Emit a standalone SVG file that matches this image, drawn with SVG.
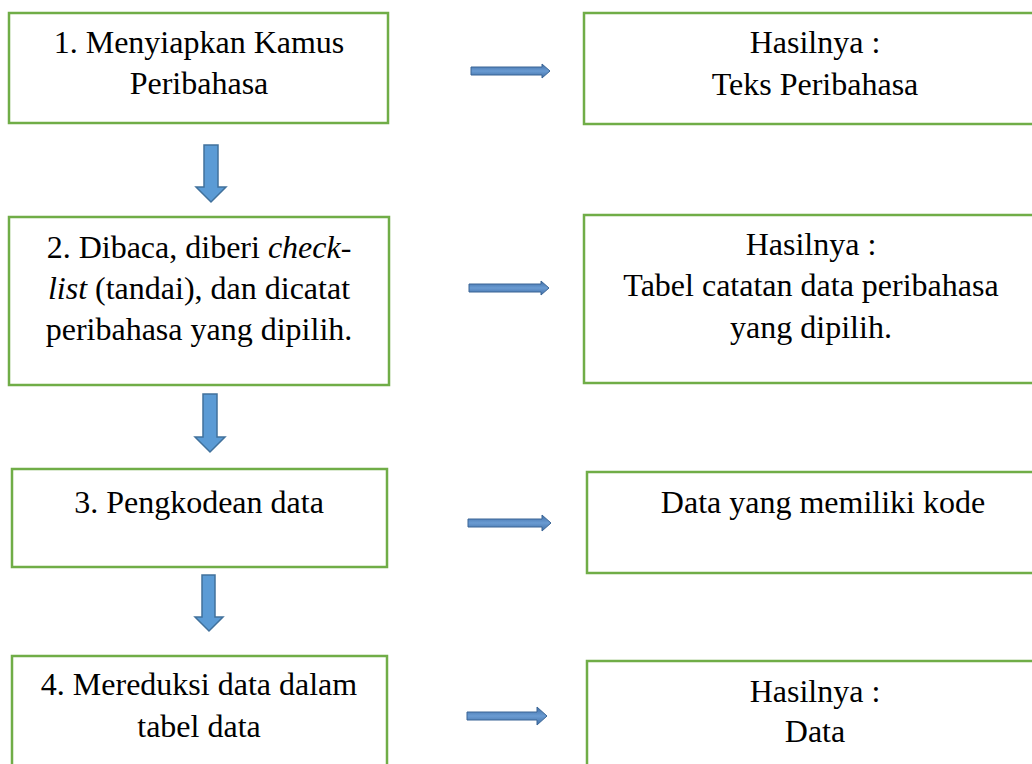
<svg xmlns="http://www.w3.org/2000/svg" width="1032" height="764" viewBox="0 0 1032 764">
<style>
.box{fill:#ffffff;stroke:#70ad47;stroke-width:2.5}
.t{font-family:'Liberation Serif','DejaVu Serif',serif;font-size:32px;fill:#000000;text-anchor:middle}
.down{fill:#5b9bd5;stroke:#41719c;stroke-width:1.5}
.right{fill:url(#hg);stroke:#3a6595;stroke-width:1}
</style>
<defs>
<linearGradient id="hg" x1="0" y1="0" x2="0" y2="1">
<stop offset="0" stop-color="#3f6ea6"/>
<stop offset="0.5" stop-color="#6a9bd2"/>
<stop offset="1" stop-color="#3f6ea6"/>
</linearGradient>
</defs>
<rect width="1032" height="764" fill="#ffffff"/>
<g id="step1">
<rect class="box" x="9" y="13" width="379" height="110"/>
<text class="t" x="199" y="53">1. Menyiapkan Kamus</text>
<text class="t" x="199" y="94">Peribahasa</text>
</g>
<g id="result1">
<rect class="box" x="584" y="13" width="460" height="111"/>
<text class="t" x="815" y="53">Hasilnya :</text>
<text class="t" x="815" y="95">Teks Peribahasa</text>
</g>
<g id="step2">
<rect class="box" x="9" y="217" width="380" height="168"/>
<text class="t" x="199" y="258">2. Dibaca, diberi <tspan font-style="italic">check-</tspan></text>
<text class="t" x="199" y="299"><tspan font-style="italic">list</tspan> (tandai), dan dicatat</text>
<text class="t" x="199" y="340">peribahasa yang dipilih.</text>
</g>
<g id="result2">
<rect class="box" x="584" y="215" width="460" height="168"/>
<text class="t" x="811" y="255">Hasilnya :</text>
<text class="t" x="811" y="296">Tabel catatan data peribahasa</text>
<text class="t" x="811" y="338">yang dipilih.</text>
</g>
<g id="step3">
<rect class="box" x="12" y="469" width="375" height="98"/>
<text class="t" x="199" y="513">3. Pengkodean data</text>
</g>
<g id="result3">
<rect class="box" x="587" y="472" width="457" height="101"/>
<text class="t" x="823" y="513">Data yang memiliki kode</text>
</g>
<g id="step4">
<rect class="box" x="12" y="656" width="375" height="120"/>
<text class="t" x="199" y="695">4. Mereduksi data dalam</text>
<text class="t" x="199" y="737">tabel data</text>
</g>
<g id="result4">
<rect class="box" x="587" y="661" width="457" height="115"/>
<text class="t" x="815" y="702">Hasilnya :</text>
<text class="t" x="815" y="742">Data</text>
</g>
<g id="connectors">
<polygon class="down" points="204,145 218,145 218,187 226,187 211,202 196,187 204,187"/>
<polygon class="down" points="203,394 217,394 217,437 225,437 210,452 195,437 203,437"/>
<polygon class="down" points="202,575 215,575 215,617 223,617 209,631 195,617 202,617"/>
<polygon class="right" points="471,67 542,67 542,64 550,71 542,78 542,75 471,75"/>
<polygon class="right" points="469,284 541,284 541,281 549,288 541,295 541,292 469,292"/>
<polygon class="right" points="468,519 542,519 542,515 551,523 542,531 542,527 468,527"/>
<polygon class="right" points="467,712 537,712 537,707 547,716 537,725 537,720 467,720"/>
</g>
</svg>
